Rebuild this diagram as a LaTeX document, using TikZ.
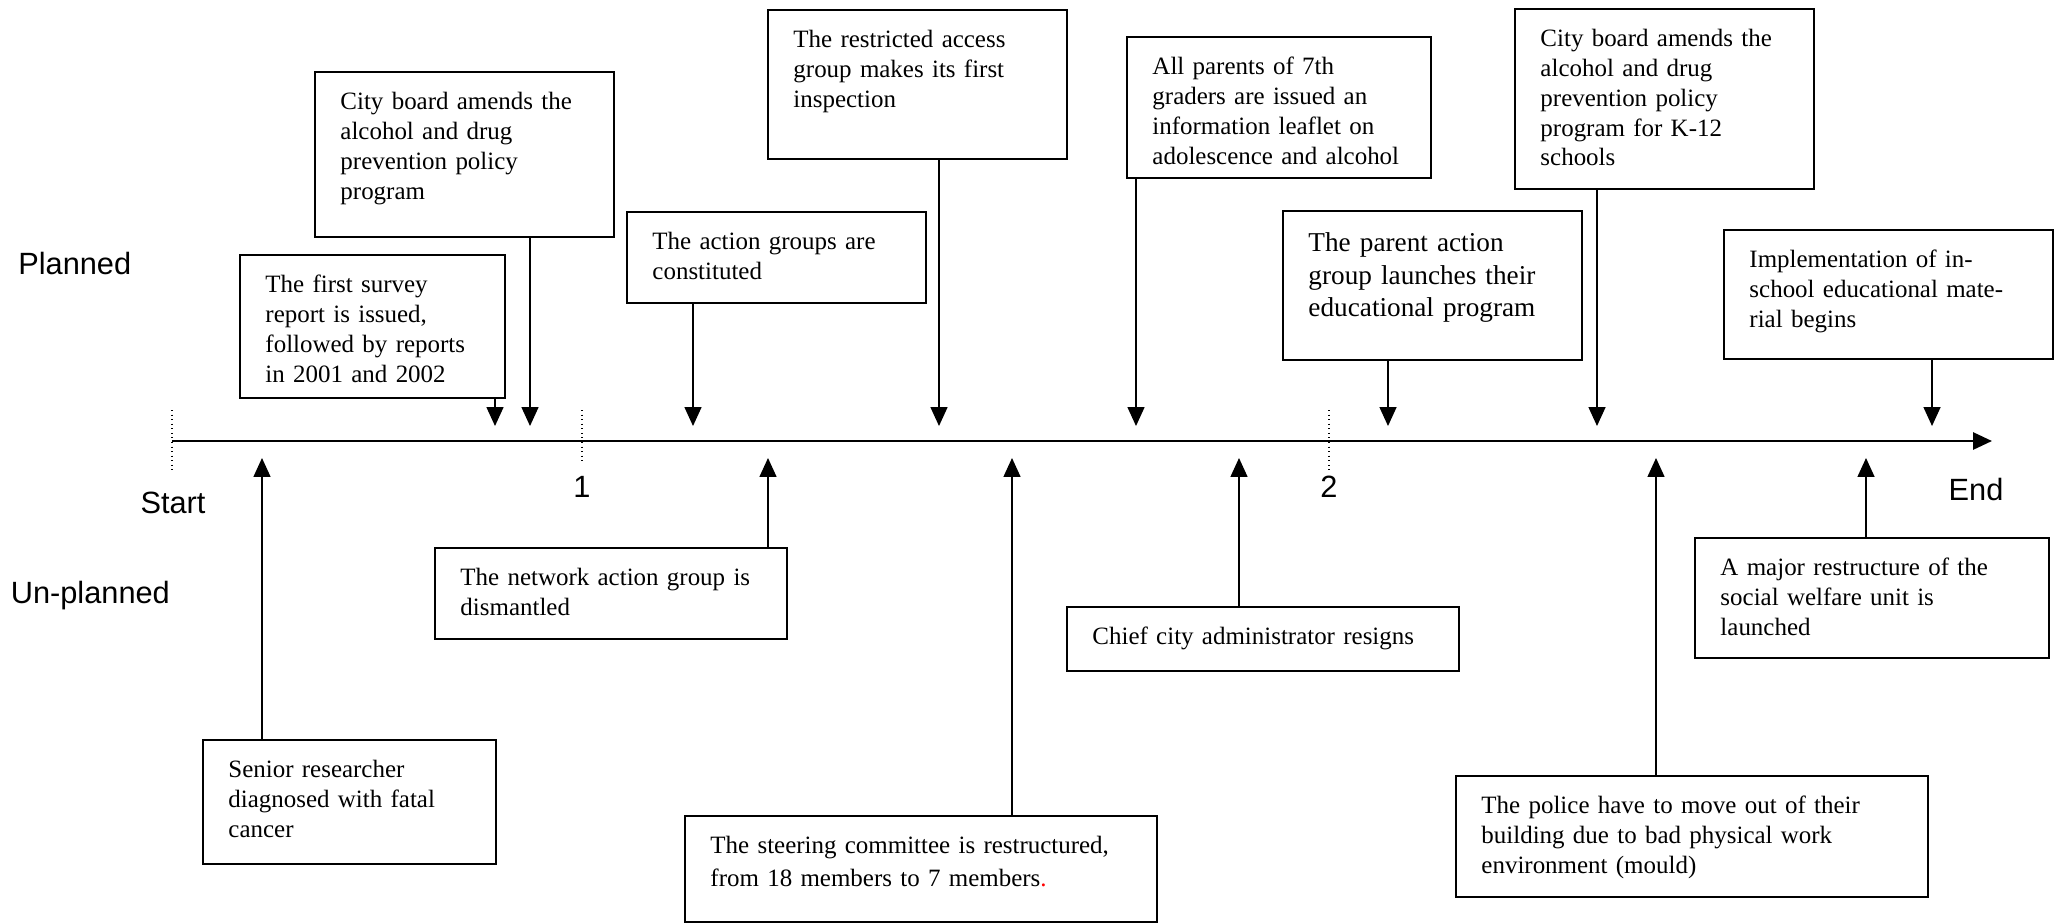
\documentclass[tikz,border=0pt]{standalone}
\usepackage{fontspec}
\setmainfont{Liberation Serif}
\setsansfont{Liberation Sans}
\usetikzlibrary{arrows.meta}

\begin{document}
\begin{tikzpicture}[box/.style = {draw, line width=1.1pt, anchor=north west, align=left, inner xsep=0.51cm, inner ysep=0pt, text width=4.96cm, text height=0.75cm, font=\fontsize{14.2}{17}\selectfont},
	lab/.style = {font=\sffamily\fontsize{17.5}{21}\selectfont, inner sep=0pt},
	arr/.style = {line width=0.75pt, -{Triangle[length=10.8pt, width=9.7pt]}},
	axis/.style = {line width=1.5pt, -{Triangle[length=10.8pt, width=9.7pt]}},
	tick/.style = {dotted, line width=0.6pt}]
		\useasboundingbox (0,0) rectangle (41.2,-18.44);
		\node[lab, anchor=base west] (pl) at (0.36,-5.48) {Planned};
		\node[lab, anchor=base west] (up) at (0.21,-12.06) {Un-planned};
		\node[lab, anchor=base] (st) at (3.46,-10.26) {Start};
		\node[lab, anchor=base] (en) at (39.52,-10.0) {End};
		\node[lab, anchor=base] (n1) at (11.64,-9.94) {1};
		\node[lab, anchor=base] (n2) at (26.58,-9.94) {2};
		\coordinate (s) at (3.44,-8.82);
		\coordinate (e) at (39.84,-8.82);
		\coordinate (t0) at (3.44,-8.20);
		\coordinate (t1) at (11.64,-8.20);
		\coordinate (t2) at (26.58,-8.20);
		\draw[axis] (s) -- (e);
		\draw[tick] (t0) -- ++(0,-1.24);
		\draw[tick] (t1) -- ++(0,-1.04);
		\draw[tick] (t2) -- ++(0,-1.24);
		% planned
		\node[box, text width=4.28cm, text depth=2.11cm] (p1) at (4.78,-5.08) {The first survey\\report is issued,\\followed by reports\\in 2001 and 2002};
		\node[box, text depth=2.55cm] (p2) at (6.28,-1.42) {City board amends the\\alcohol and drug\\prevention policy\\program};
		\node[box, text depth=1.07cm] (p3) at (12.52,-4.22) {The action groups are\\constituted};
		\node[box, text depth=2.23cm] (p4) at (15.34,-0.18) {The restricted access\\group makes its first\\inspection};
		\node[box, text width=5.06cm, text depth=2.07cm] (p5) at (22.52,-0.72) {All parents of 7th\\graders are issued an\\information leaflet on\\adolescence and alcohol};
		\node[box, font=\fontsize{15.5}{18.5}\selectfont, text height=0.82cm, text depth=2.16cm] (p6) at (25.64,-4.20) {The parent action\\group launches their\\educational program};
		\node[box, text depth=2.85cm] (p7) at (30.28,-0.16) {City board amends the\\alcohol and drug\\prevention policy\\program for K-12\\schools};
		\node[box, text width=5.56cm, text depth=1.83cm] (p8) at (34.46,-4.58) {Implementation of in-\\school educational mate-\\rial begins};
		% un-planned
		\node[box, text width=4.84cm, text depth=1.73cm] (u1) at (4.04,-14.78) {Senior researcher\\diagnosed with fatal\\cancer};
		\node[box, text width=6.02cm, text depth=1.07cm] (u2) at (8.68,-10.94) {The network action group is\\dismantled};
		\node[box, text width=8.42cm, text depth=1.37cm, font=\fontsize{14.2}{18.7}\selectfont] (u3) at (13.68,-16.30) {The steering committee is restructured,\\from 18 members to 7 members{\color{red}.}};
		\node[box, text width=6.82cm, text depth=0.53cm] (u4) at (21.32,-12.12) {Chief city administrator resigns};
		\node[box, text width=8.42cm, text depth=1.67cm] (u5) at (29.10,-15.50) {The police have to move out of their\\building due to bad physical work\\environment (mould)};
		\node[box, text width=6.06cm, text depth=1.65cm] (u6) at (33.88,-10.74) {A major restructure of the\\social welfare unit is\\launched};
		\coordinate (a1) at (9.90,-8.52);
		\coordinate (a2) at (10.60,-8.52);
		\coordinate (a3) at (13.86,-8.52);
		\coordinate (a4) at (18.78,-8.52);
		\coordinate (a5) at (22.72,-8.52);
		\coordinate (a6) at (27.76,-8.52);
		\coordinate (a7) at (31.94,-8.52);
		\coordinate (a8) at (38.64,-8.52);
		\coordinate (b1) at (5.24,-9.16);
		\coordinate (b2) at (15.36,-9.16);
		\coordinate (b3) at (20.24,-9.16);
		\coordinate (b4) at (24.78,-9.16);
		\coordinate (b5) at (33.12,-9.16);
		\coordinate (b6) at (37.32,-9.16);
		\draw[arr] (p1.south -| a1) -- (a1);
		\draw[arr] (p2.south -| a2) -- (a2);
		\draw[arr] (p3.south -| a3) -- (a3);
		\draw[arr] (p4.south -| a4) -- (a4);
		\draw[arr] (p5.south -| a5) -- (a5);
		\draw[arr] (p6.south -| a6) -- (a6);
		\draw[arr] (p7.south -| a7) -- (a7);
		\draw[arr] (p8.south -| a8) -- (a8);
		\draw[arr] (u1.north -| b1) -- (b1);
		\draw[arr] (u2.north -| b2) -- (b2);
		\draw[arr] (u3.north -| b3) -- (b3);
		\draw[arr] (u4.north -| b4) -- (b4);
		\draw[arr] (u5.north -| b5) -- (b5);
		\draw[arr] (u6.north -| b6) -- (b6);
	\end{tikzpicture}
\end{document}
